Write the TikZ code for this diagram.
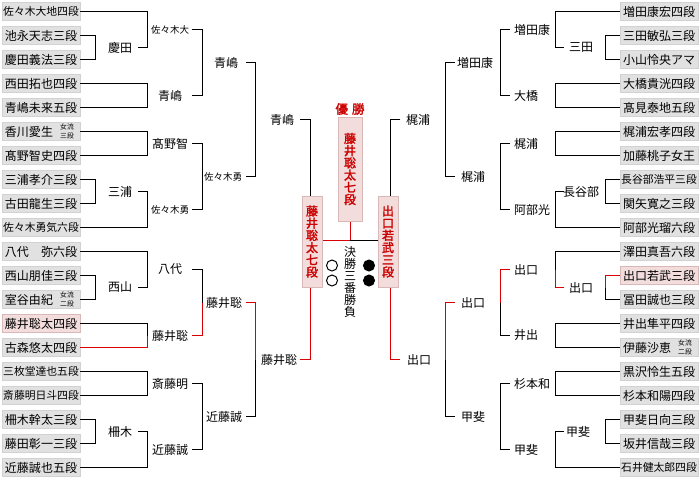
\documentclass[tikz,border=0pt]{standalone}
\usepackage{fontspec}
\setmainfont{Noto Sans CJK JP}[AutoFakeBold=2]
\definecolor{boxgray}{HTML}{E1E1E1}
\definecolor{boxedge}{HTML}{D2D2D2}
\definecolor{pinkfill}{HTML}{F2DCDC}
\definecolor{pinkedge}{HTML}{D9B8B8}
\definecolor{winred}{HTML}{D80000}
\definecolor{txtred}{HTML}{CC0000}
\tikzset{
  pl/.style={draw=boxedge, fill=boxgray, line width=0.8pt, minimum width=78pt, minimum height=18pt, inner sep=0pt, font=\fontsize{12}{12}\selectfont},
  plseven/.style={font=\fontsize{10.8}{10.8}\selectfont},
  plwin/.style={pl, draw=pinkedge, fill=pinkfill},
  tiny/.style={inner sep=0pt, align=center, font=\fontsize{6.8}{8.8}\selectfont},
  lbl/.style={inner sep=0pt, font=\fontsize{12}{12}\selectfont},
  lbls/.style={inner sep=0pt, font=\fontsize{9.5}{9.5}\selectfont},
  ln/.style={line width=1pt, black},
  rl/.style={line width=1pt, winred},
  fin/.style={draw=pinkedge, fill=pinkfill, line width=1pt, inner sep=0pt, align=center, text=txtred, font=\bfseries\fontsize{12}{12.2}\selectfont},
  dot/.style={circle, draw=black, line width=1pt, minimum size=11pt, inner sep=0pt},
}
\begin{document}
\begin{tikzpicture}[x=1pt,y=-1pt]
\fill[white] (0,0) rectangle (700,480);
\useasboundingbox (0,0) rectangle (700,480);
% column coordinates
\coordinate (cA) at (95,0);  \coordinate (cB) at (147,0); \coordinate (sB) at (138,0);
\coordinate (cC) at (202,0); \coordinate (sC) at (192,0);
\coordinate (cD) at (255,0); \coordinate (sD) at (246,0);
\coordinate (cE) at (310,0); \coordinate (sE) at (300,0);
\coordinate (dA) at (605,0); \coordinate (dB) at (555,0); \coordinate (tB) at (564,0);
\coordinate (dC) at (500,0); \coordinate (tC) at (510,0);
\coordinate (dD) at (445,0); \coordinate (tD) at (455,0);
\coordinate (dE) at (390,0); \coordinate (tE) at (400,0);

% ---------- left players ----------
\node[pl,plseven] (L0) at (41,11.5) {佐々木大地四段};
\node[pl] (L1) at (41,35.5) {池永天志三段};
\node[pl] (L2) at (41,59.5) {慶田義法三段};
\node[pl] (L3) at (41,83.5) {西田拓也四段};
\node[pl] (L4) at (41,107.5) {青嶋未来五段};
\node[pl] (L5) at (41,131.5) {};
\node[lbl] (L5n) at (29,131.5) {香川愛生};
\node[tiny] (L5a) at (67,131.5) {女流\\三段};
\node[pl] (L6) at (41,155.5) {髙野智史四段};
\node[pl] (L7) at (41,179.5) {三浦孝介三段};
\node[pl] (L8) at (41,203.5) {古田龍生三段};
\node[pl,plseven] (L9) at (41,227.5) {佐々木勇気六段};
\node[pl] (L10) at (41,251.5) {八代　弥六段};
\node[pl] (L11) at (41,275.5) {西山朋佳三段};
\node[pl] (L12) at (41,299.5) {};
\node[lbl] (L12n) at (29,299.5) {室谷由紀};
\node[tiny] (L12a) at (67,299.5) {女流\\二段};
\node[plwin] (L13) at (41,323.5) {藤井聡太四段};
\node[pl] (L14) at (41,347.5) {古森悠太四段};
\node[pl,plseven] (L15) at (41,371.5) {三枚堂達也五段};
\node[pl,plseven] (L16) at (41,395.5) {斎藤明日斗四段};
\node[pl] (L17) at (41,419.5) {柵木幹太三段};
\node[pl] (L18) at (41,443.5) {藤田彰一三段};
\node[pl] (L19) at (41,467.5) {近藤誠也五段};

% ---------- right players ----------
\node[pl] (R0) at (659,11.5) {増田康宏四段};
\node[pl] (R1) at (659,35.5) {三田敏弘三段};
\node[pl] (R2) at (659,59.5) {小山怜央アマ};
\node[pl] (R3) at (659,83.5) {大橋貴洸四段};
\node[pl] (R4) at (659,107.5) {髙見泰地五段};
\node[pl] (R5) at (659,131.5) {梶浦宏孝四段};
\node[pl] (R6) at (659,155.5) {加藤桃子女王};
\node[pl,plseven] (R7) at (659,179.5) {長谷部浩平三段};
\node[pl] (R8) at (659,203.5) {関矢寛之三段};
\node[pl] (R9) at (659,227.5) {阿部光瑠六段};
\node[pl] (R10) at (659,251.5) {澤田真吾六段};
\node[plwin] (R11) at (659,275.5) {出口若武三段};
\node[pl] (R12) at (659,299.5) {冨田誠也三段};
\node[pl] (R13) at (659,323.5) {井出隼平四段};
\node[pl] (R14) at (659,347.5) {};
\node[lbl] (R14n) at (647,347.5) {伊藤沙恵};
\node[tiny] (R14a) at (685,347.5) {女流\\二段};
\node[pl] (R15) at (659,371.5) {黒沢怜生五段};
\node[pl] (R16) at (659,395.5) {杉本和陽四段};
\node[pl] (R17) at (659,419.5) {甲斐日向三段};
\node[pl] (R18) at (659,443.5) {坂井信哉三段};
\node[pl,plseven] (R19) at (659,467.5) {石井健太郎四段};

% ---------- left labels ----------
\node[lbl] (k1) at (120,47.5) {慶田};
\node[lbl] (k2) at (120,191.5) {三浦};
\node[lbl] (k3) at (120,287.5) {西山};
\node[lbl] (k4) at (120,431.5) {柵木};
\node[lbls] (a1) at (170,29.5) {佐々木大};
\node[lbl] (a2) at (170,95.5) {青嶋};
\node[lbl] (a3) at (170,143.5) {髙野智};
\node[lbls] (a4) at (170,209.5) {佐々木勇};
\node[lbl] (a5) at (170,269.5) {八代};
\node[lbl] (a6) at (170,335.5) {藤井聡};
\node[lbl] (a7) at (170,383.5) {斎藤明};
\node[lbl] (a8) at (170,449.5) {近藤誠};
\node[lbl] (b1) at (226,62.5) {青嶋};
\node[lbls] (b2) at (223,176.5) {佐々木勇};
\node[lbl] (b3) at (224,302.5) {藤井聡};
\node[lbl] (b4) at (224,416.5) {近藤誠};
\node[lbl] (e1) at (282,119.5) {青嶋};
\node[lbl] (e2) at (279,359.5) {藤井聡};

% ---------- right labels ----------
\node[lbl] (m1) at (581,47.5) {三田};
\node[lbl] (m2) at (581,191.5) {長谷部};
\node[lbl] (m3) at (581,287.5) {出口};
\node[lbl] (m4) at (578,431.5) {甲斐};
\node[lbl,anchor=west] (n1) at (514,29.5) {増田康};
\node[lbl,anchor=west] (n2) at (514,95.5) {大橋};
\node[lbl,anchor=west] (n3) at (514,143.5) {梶浦};
\node[lbl,anchor=west] (n4) at (514,209.5) {阿部光};
\node[lbl,anchor=west] (n5) at (514,269.5) {出口};
\node[lbl,anchor=west] (n6) at (514,335.5) {井出};
\node[lbl,anchor=west] (n7) at (514,383.5) {杉本和};
\node[lbl,anchor=west] (n8) at (514,449.5) {甲斐};
\node[lbl] (o1) at (475,62.5) {増田康};
\node[lbl] (o2) at (473,176.5) {梶浦};
\node[lbl] (o3) at (473,302.5) {出口};
\node[lbl] (o4) at (473,416.5) {甲斐};
\node[lbl] (p1) at (418,119.5) {梶浦};
\node[lbl] (p2) at (419,359.5) {出口};

% ---------- centre ----------
\node[fin, minimum width=24pt, minimum height=104pt] (cf) at (350,169) {藤\\井\\聡\\太\\七\\段};
\node[fin, minimum width=20pt, minimum height=91pt] (lf) at (312,241.5) {藤\\井\\聡\\太\\七\\段};
\node[fin, minimum width=20pt, minimum height=91pt] (rf) at (388,241.5) {出\\口\\若\\武\\三\\段};
\node[inner sep=0pt, text=txtred, font=\bfseries\fontsize{12.5}{12.5}\selectfont] (yu) at (350,109) {優\hspace{4pt}勝};
\coordinate (jn) at (350,240);
\node[inner sep=0pt, align=center, font=\fontsize{12}{12.1}\selectfont] (kt) at (350,282) {決\\勝\\三\\番\\勝\\負};
\node[dot, fill=white] (w1) at (332,265.5) {};
\node[dot, fill=white] (w2) at (332,280.5) {};
\node[dot, fill=black] (x1) at (369,265.5) {};
\node[dot, fill=black] (x2) at (369,280.5) {};

% ---------- left connectors ----------
\draw[ln] (L1.east) -- (L1 -| cA) -- (L2 -| cA) -- (L2.east);
\draw[ln] (L7.east) -- (L7 -| cA) -- (L8 -| cA) -- (L8.east);
\draw[ln] (L11.east) -- (L11 -| cA) -- (L12 -| cA) -- (L12.east);
\draw[ln] (L17.east) -- (L17 -| cA) -- (L18 -| cA) -- (L18.east);
\draw[ln] (L3.east) -- (L3 -| cB) -- (L4 -| cB) -- (L4.east);
\draw[ln] (L5.east) -- (L5 -| cB) -- (L6 -| cB) -- (L6.east);
\draw[ln] (L15.east) -- (L15 -| cB) -- (L16 -| cB) -- (L16.east);
\draw[ln] (L13.east) -- (L13 -| cB) -- (a6 -| cB);
\draw[rl] (a6 -| cB) -- (L14 -| cB) -- (L14.east);
\draw[ln] (L0.east) -- (L0 -| cB) -- (k1 -| cB) -- (k1 -| sB);
\draw[ln] (k2 -| sB) -- (k2 -| cB) -- (L9 -| cB) -- (L9.east);
\draw[ln] (L10.east) -- (L10 -| cB) -- (k3 -| cB) -- (k3 -| sB);
\draw[ln] (k4 -| sB) -- (k4 -| cB) -- (L19 -| cB) -- (L19.east);
\draw[ln] (a1 -| sC) -- (a1 -| cC) -- (a2 -| cC) -- (a2 -| sC);
\draw[ln] (a3 -| sC) -- (a3 -| cC) -- (a4 -| cC) -- (a4 -| sC);
\draw[ln] (a5 -| sC) -- (a5 -| cC) -- (b3 -| cC);
\draw[rl] (b3 -| cC) -- (a6 -| cC) -- (a6 -| sC);
\draw[ln] (a7 -| sC) -- (a7 -| cC) -- (a8 -| cC) -- (a8 -| sC);
\draw[ln] (b1 -| sD) -- (b1 -| cD) -- (b2 -| cD) -- (b2 -| sD);
\draw[rl] (b3 -| sD) -- (b3 -| cD) -- (e2 -| cD);
\draw[ln] (e2 -| cD) -- (b4 -| cD) -- (b4 -| sD);
\draw[ln] (e1 -| sE) -- (e1 -| cE) -- (lf.north -| cE);
\draw[rl] (lf.south -| cE) -- (e2 -| cE) -- (e2 -| sE);

% ---------- right connectors ----------
\draw[ln] (R1.west) -- (R1 -| dA) -- (R2 -| dA) -- (R2.west);
\draw[ln] (R7.west) -- (R7 -| dA) -- (R8 -| dA) -- (R8.west);
\draw[rl] (R11.west) -- (R11 -| dA) -- (m3 -| dA);
\draw[ln] (m3 -| dA) -- (R12 -| dA) -- (R12.west);
\draw[ln] (R17.west) -- (R17 -| dA) -- (R18 -| dA) -- (R18.west);
\draw[ln] (R3.west) -- (R3 -| dB) -- (R4 -| dB) -- (R4.west);
\draw[ln] (R5.west) -- (R5 -| dB) -- (R6 -| dB) -- (R6.west);
\draw[ln] (R13.west) -- (R13 -| dB) -- (R14 -| dB) -- (R14.west);
\draw[ln] (R15.west) -- (R15 -| dB) -- (R16 -| dB) -- (R16.west);
\draw[ln] (R0.west) -- (R0 -| dB) -- (m1 -| dB) -- (m1 -| tB);
\draw[ln] (m2 -| tB) -- (m2 -| dB) -- (R9 -| dB) -- (R9.west);
\draw[ln] (R10.west) -- (R10 -| dB) -- (n5 -| dB);
\draw[rl] (n5 -| dB) -- (m3 -| dB) -- (m3 -| tB);
\draw[ln] (m4 -| tB) -- (m4 -| dB) -- (R19 -| dB) -- (R19.west);
\draw[ln] (n1 -| tC) -- (n1 -| dC) -- (n2 -| dC) -- (n2 -| tC);
\draw[ln] (n3 -| tC) -- (n3 -| dC) -- (n4 -| dC) -- (n4 -| tC);
\draw[rl] (n5 -| tC) -- (n5 -| dC) -- (o3 -| dC);
\draw[ln] (o3 -| dC) -- (n6 -| dC) -- (n6 -| tC);
\draw[ln] (n7 -| tC) -- (n7 -| dC) -- (n8 -| dC) -- (n8 -| tC);
\draw[ln] (o1 -| tD) -- (o1 -| dD) -- (o2 -| dD) -- (o2 -| tD);
\draw[rl] (o3 -| tD) -- (o3 -| dD) -- (p2 -| dD);
\draw[ln] (p2 -| dD) -- (o4 -| dD) -- (o4 -| tD);
\draw[ln] (p1 -| tE) -- (p1 -| dE) -- (rf.north -| dE);
\draw[rl] (rf.south -| dE) -- (p2 -| dE) -- (p2 -| tE);

% ---------- final connectors ----------
\draw[rl] (cf.south) -- (jn) -- (lf.east |- jn);
\draw[ln] (jn) -- (rf.west |- jn);
\end{tikzpicture}
\end{document}
